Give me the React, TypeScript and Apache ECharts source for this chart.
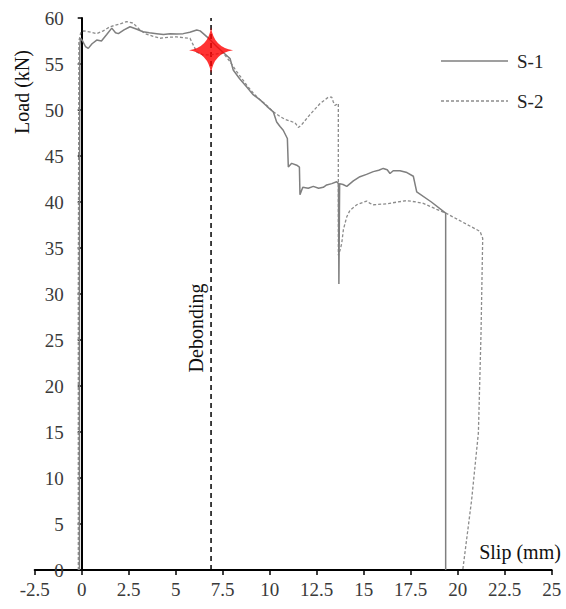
import React, { useEffect, useRef } from "react";
import * as echarts from "echarts";

const seriesNames = ["S-1", "S-2"];

const s1Points: [number, number][] = [
  [-0.12, 0], [-0.12, 30], [-0.1, 57.0], [-0.06, 57.8], [0.05, 57.5], [0.2, 56.9], [0.35, 56.7],
  [0.55, 57.2], [0.8, 57.6], [1.05, 57.5], [1.33, 58.2], [1.6, 58.9], [1.8, 58.4], [1.95, 58.3],
  [2.25, 58.7], [2.57, 59.05], [2.9, 58.8], [3.26, 58.5], [3.6, 58.4], [3.99, 58.3], [4.35, 58.2],
  [4.7, 58.3], [5.05, 58.25], [5.4, 58.3], [5.75, 58.45], [6.12, 58.7], [6.3, 58.6], [6.47, 58.3],
  [6.8, 57.7], [7.18, 56.9], [7.5, 56.3], [7.89, 55.6], [8.06, 54.35], [8.4, 53.4], [8.78, 52.5],
  [9.1, 51.7], [9.49, 51.1], [9.85, 50.4], [10.19, 49.8], [10.37, 48.7], [10.55, 48.2], [10.72, 47.8],
  [10.94, 46.9], [10.99, 43.8], [11.17, 44.2], [11.44, 44.0], [11.58, 43.8], [11.61, 40.8],
  [11.76, 41.6], [12.05, 41.5], [12.32, 41.7], [12.6, 41.5], [12.85, 41.6], [13.03, 41.85],
  [13.3, 42.0], [13.56, 42.2], [13.66, 42.0], [13.68, 31.1], [13.72, 42.0], [13.9, 41.9],
  [14.1, 41.7], [14.45, 42.3], [14.8, 42.75], [15.15, 43.0], [15.51, 43.3], [15.8, 43.45],
  [16.04, 43.65], [16.25, 43.5], [16.4, 43.1], [16.57, 43.4], [16.93, 43.4], [17.3, 43.2],
  [17.64, 42.8], [17.82, 41.1], [18.6, 40.0], [19.36, 38.8], [19.36, 0],
];

const s2Points: [number, number][] = [
  [-0.18, 0], [-0.18, 30], [-0.15, 57.5], [-0.05, 58.4], [0.1, 58.6], [0.4, 58.5], [0.8, 58.3],
  [1.15, 58.6], [1.5, 59.05], [1.95, 59.3], [2.39, 59.6], [2.73, 59.45], [3.05, 58.8], [3.37, 58.3],
  [3.8, 58.0], [4.17, 57.8], [4.6, 57.9], [5.05, 57.95], [5.45, 57.85], [5.76, 57.8], [5.95, 57.0],
  [6.12, 56.3], [6.45, 56.0], [6.82, 55.98], [7.2, 56.1], [7.53, 56.2], [7.89, 55.25], [8.2, 54.3],
  [8.78, 52.7], [9.1, 51.9], [9.49, 51.1], [9.85, 50.5], [10.19, 49.8], [10.55, 49.3], [10.8, 49.0],
  [11.08, 48.8], [11.35, 48.6], [11.52, 48.1], [11.7, 48.4], [12.14, 49.5], [12.68, 50.7],
  [13.12, 51.4], [13.3, 51.4], [13.38, 50.9], [13.47, 50.5], [13.65, 50.7], [13.65, 34.2],
  [13.75, 34.8], [13.83, 35.5], [13.92, 37.0], [14.1, 38.4], [14.27, 39.1], [14.63, 39.7],
  [15.16, 40.1], [15.34, 39.85], [15.51, 39.7], [16.22, 39.8], [16.8, 40.0], [17.29, 40.15],
  [17.8, 40.0], [18.17, 39.85], [18.88, 39.2], [19.36, 38.8], [21.19, 36.8], [21.33, 36.05],
  [21.24, 25.7], [21.1, 14.9], [20.74, 7.6], [20.3, 0.5], [20.27, 0],
];

const debondingX = 6.88;
const debondingLine: [number, number][] = [[debondingX, 0], [debondingX, 60]];
const debondingPoint: [number, number][] = [[debondingX, 56.5]];

const xMin = -2.5;
const xMax = 25;
const xStep = 2.5;
const yMin = 0;
const yMax = 60;
const yStep = 5;

const FONT = "'Liberation Serif', 'Times New Roman', serif";
const STAR =
  "path://M20,0 Q22.5,17.5 40,20 Q22.5,22.5 20,40 Q17.5,22.5 0,20 Q17.5,17.5 20,0 Z";

const GRID_LEFT = 34.7;
const GRID_RIGHT = 14.3;
const W = 566;
// pixel offset from grid left edge to x = 0
const Y_AXIS_SHIFT = ((0 - xMin) / (xMax - xMin)) * (W - GRID_LEFT - GRID_RIGHT);

export default function App() {
  const ref = useRef<HTMLDivElement>(null);

  useEffect(() => {
    document.body.style.margin = "0";
    if (!ref.current) return;
    const chart = echarts.init(ref.current, null, { renderer: "svg" });
    const S1_COLOR = "#7f7f7f";
    const S2_COLOR = "#8c8c8c";
    chart.setOption({
      animation: false,
      backgroundColor: "#ffffff",
      grid: {
        left: GRID_LEFT,
        right: GRID_RIGHT,
        top: 18,
        bottom: 39,
        outerBoundsMode: "none",
        containLabel: false,
      },
      xAxis: {
        type: "value",
        min: xMin,
        max: xMax,
        interval: xStep,
        axisLine: { show: true, onZero: false, lineStyle: { color: "#000", width: 2 } },
        axisTick: { show: true, length: 5, lineStyle: { color: "#000", width: 1.5 } },
        axisLabel: { fontFamily: FONT, fontSize: 19, color: "#3a3a3a", margin: 10 },
        splitLine: { show: false },
      },
      yAxis: {
        type: "value",
        min: yMin,
        max: yMax,
        interval: yStep,
        position: "left",
        offset: -Y_AXIS_SHIFT,
        axisLine: { show: true, onZero: false, lineStyle: { color: "#000", width: 2 } },
        axisTick: { show: true, length: 4, lineStyle: { color: "#000", width: 1.5 } },
        axisLabel: { fontFamily: FONT, fontSize: 19, color: "#3a3a3a", margin: 18 },
        splitLine: { show: false },
      },
      graphic: [
        {
          type: "text",
          x: 22,
          y: 92,
          rotation: Math.PI / 2,
          style: {
            text: "Load (kN)",
            fontFamily: FONT,
            fontSize: 20,
            fill: "#111",
            align: "center",
            verticalAlign: "middle",
          },
        },
        {
          type: "text",
          x: 520,
          y: 552,
          style: {
            text: "Slip (mm)",
            fontFamily: FONT,
            fontSize: 20,
            fill: "#111",
            align: "center",
            verticalAlign: "middle",
          },
        },
        {
          type: "text",
          x: 196,
          y: 328,
          rotation: Math.PI / 2,
          style: {
            text: "Debonding",
            fontFamily: FONT,
            fontSize: 20,
            fill: "#111",
            align: "center",
            verticalAlign: "middle",
          },
        },
        {
          type: "line",
          shape: { x1: 441, y1: 61, x2: 508, y2: 61 },
          style: { stroke: S1_COLOR, lineWidth: 1.5 },
        },
        {
          type: "text",
          x: 517,
          y: 61,
          style: {
            text: seriesNames[0],
            fontFamily: FONT,
            fontSize: 19,
            fill: "#222",
            align: "left",
            verticalAlign: "middle",
          },
        },
        {
          type: "line",
          shape: { x1: 441, y1: 101, x2: 508, y2: 101 },
          style: { stroke: S2_COLOR, lineWidth: 1.3, lineDash: [3, 2] },
        },
        {
          type: "text",
          x: 517,
          y: 101,
          style: {
            text: seriesNames[1],
            fontFamily: FONT,
            fontSize: 19,
            fill: "#222",
            align: "left",
            verticalAlign: "middle",
          },
        },
      ],
      series: [
        {
          name: seriesNames[0],
          type: "line",
          data: s1Points,
          symbol: "none",
          lineStyle: { color: S1_COLOR, width: 1.5, type: "solid" },
          itemStyle: { color: S1_COLOR },
          z: 3,
        },
        {
          name: seriesNames[1],
          type: "line",
          data: s2Points,
          symbol: "none",
          lineStyle: { color: S2_COLOR, width: 1.3, type: [3, 2] },
          itemStyle: { color: S2_COLOR },
          z: 2,
        },
        {
          name: "debond",
          type: "line",
          data: debondingLine,
          symbol: "none",
          lineStyle: { color: "#000", width: 1.5, type: [5, 4] },
          z: 1,
        },
        {
          name: "debondPoint",
          type: "scatter",
          data: debondingPoint,
          symbol: STAR,
          symbolSize: [44, 46],
          itemStyle: { color: "#ff0000" },
          z: 5,
        },
      ],
    });
    return () => chart.dispose();
  }, []);

  return <div ref={ref} style={{ width: 566, height: 609 }} />;
}
